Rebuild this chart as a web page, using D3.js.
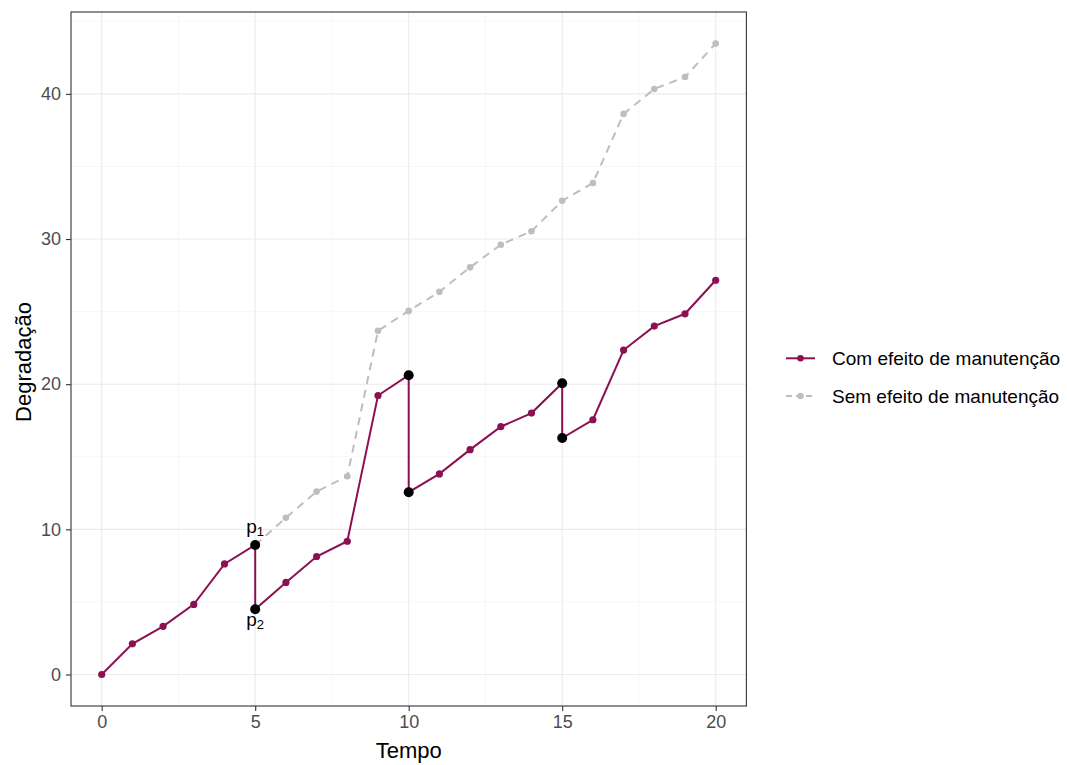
<!DOCTYPE html>
<html><head><meta charset="utf-8">
<script src="https://cdn.jsdelivr.net/npm/d3@7"></script>
<style>body{margin:0;background:#fff}text{font-family:"Liberation Sans",Arial,sans-serif}</style>
</head><body><svg id="c" width="1067" height="765"></svg>
<script>
// Com efeito de manutenção (maroon path, including vertical drops at maintenance times)
const comTempo = [0,1,2,3,4,5,5,6,7,8,9,10,10,11,12,13,14,15,15,16,17,18,19,20];
const comValor = [0,2.11,3.32,4.83,7.62,8.92,4.49,6.34,8.13,9.18,19.22,20.62,12.56,13.82,15.49,17.07,18.01,20.07,16.29,17.55,22.35,24.0,24.85,27.16];
// Sem efeito de manutenção (grey dashed)
const semTempo = [5,6,7,8,9,10,11,12,13,14,15,16,17,18,19,20];
const semValor = [8.92,10.8,12.6,13.66,23.68,25.05,26.36,28.05,29.61,30.54,32.63,33.86,38.62,40.34,41.16,43.47];
// Maintenance points (black)
const manTempo = [5,5,10,10,15,15];
const manValor = [8.92,4.49,20.62,12.56,20.07,16.29];
const xTicks = [0,5,10,15,20];
const yTicks = [0,10,20,30,40];
const legendLabels = ["Com efeito de manutenção","Sem efeito de manutenção"];
const corCom = "#8B1153", corSem = "#BEBEBE";

const svg = d3.select("#c");
const L=71, R=746.4, T=12, B=706;
const x = d3.scaleLinear().domain([-1,21]).range([L,R]);
const y = d3.scaleLinear().domain([-2.17,45.64]).range([B,T]);

const g = svg.append("g");
// grid
const xMinor=[2.5,7.5,12.5,17.5], yMinor=[5,15,25,35,45];
g.selectAll(".xm").data(xMinor).enter().append("line").attr("x1",d=>x(d)).attr("x2",d=>x(d)).attr("y1",T).attr("y2",B).attr("stroke","#F2F2F2").attr("stroke-width",0.6);
g.selectAll(".ym").data(yMinor.filter(v=>y(v)>T)).enter().append("line").attr("y1",d=>y(d)).attr("y2",d=>y(d)).attr("x1",L).attr("x2",R).attr("stroke","#F2F2F2").attr("stroke-width",0.6);
g.selectAll(".xg").data(xTicks).enter().append("line").attr("x1",d=>x(d)).attr("x2",d=>x(d)).attr("y1",T).attr("y2",B).attr("stroke","#EBEBEB").attr("stroke-width",1.1);
g.selectAll(".yg").data(yTicks).enter().append("line").attr("y1",d=>y(d)).attr("y2",d=>y(d)).attr("x1",L).attr("x2",R).attr("stroke","#EBEBEB").attr("stroke-width",1.1);

// series
const semData = semTempo.map((t,i)=>[t,semValor[i]]);
const comData = comTempo.map((t,i)=>[t,comValor[i]]);
const line = d3.line().x(d=>x(d[0])).y(d=>y(d[1]));
g.append("path").attr("d",line(semData)).attr("fill","none").attr("stroke",corSem).attr("stroke-width",2).attr("stroke-dasharray","8,6");
g.selectAll(".sp").data(semData).enter().append("circle").attr("cx",d=>x(d[0])).attr("cy",d=>y(d[1])).attr("r",3.3).attr("fill",corSem);
g.append("path").attr("d",line(comData)).attr("fill","none").attr("stroke",corCom).attr("stroke-width",2);
g.selectAll(".cp").data(comData).enter().append("circle").attr("cx",d=>x(d[0])).attr("cy",d=>y(d[1])).attr("r",3.6).attr("fill",corCom);
const manData = manTempo.map((t,i)=>[t,manValor[i]]);
g.selectAll(".mp").data(manData).enter().append("circle").attr("cx",d=>x(d[0])).attr("cy",d=>y(d[1])).attr("r",5).attr("fill","#000");

// p1 / p2 labels
function plabel(t,v,sub,dy){
  const tx = g.append("text").attr("x",x(t)).attr("y",y(v)+dy).attr("text-anchor","middle").attr("font-size",19).attr("fill","#000");
  tx.append("tspan").text("p");
  tx.append("tspan").attr("font-size",13).attr("dy",3).text(sub);
}
plabel(manTempo[0],manValor[0],"1",-12);
plabel(manTempo[1],manValor[1],"2",17);

// panel border
g.append("rect").attr("x",L).attr("y",T).attr("width",R-L).attr("height",B-T).attr("fill","none").attr("stroke","#333333").attr("stroke-width",1.1);

// axes
const xa = svg.append("g").attr("transform",`translate(0,${B})`).call(d3.axisBottom(x).tickValues(xTicks).tickSize(5).tickPadding(4).tickFormat(d3.format("d")));
const ya = svg.append("g").attr("transform",`translate(${L},0)`).call(d3.axisLeft(y).tickValues(yTicks).tickSize(5).tickPadding(5).tickFormat(d3.format("d")));
[xa,ya].forEach(a=>{a.select(".domain").remove();a.selectAll("line").attr("stroke","#333333").attr("stroke-width",1.1);
  a.selectAll("text").attr("fill","#4D4D4D").attr("font-size",18).attr("font-family","Liberation Sans, Arial, sans-serif");});

svg.append("text").attr("x",(L+R)/2).attr("y",758).attr("text-anchor","middle").attr("font-size",22).text("Tempo");
svg.append("text").attr("transform",`translate(31,${(T+B)/2+3}) rotate(-90)`).attr("text-anchor","middle").attr("font-size",22).text("Degradação");

// legend
const leg = svg.append("g");
legendLabels.forEach((lab,i)=>{
  const yy = 358.3 + i*37.7;
  const col = i===0?corCom:corSem;
  leg.append("line").attr("x1",786).attr("x2",815).attr("y1",yy).attr("y2",yy).attr("stroke",col).attr("stroke-width",2).attr("stroke-dasharray",i===0?null:"6,4");
  leg.append("circle").attr("cx",800.5).attr("cy",yy).attr("r",3.3).attr("fill",col);
  leg.append("text").attr("x",832).attr("y",yy+7).attr("font-size",19).text(lab);
});
</script></body></html>
